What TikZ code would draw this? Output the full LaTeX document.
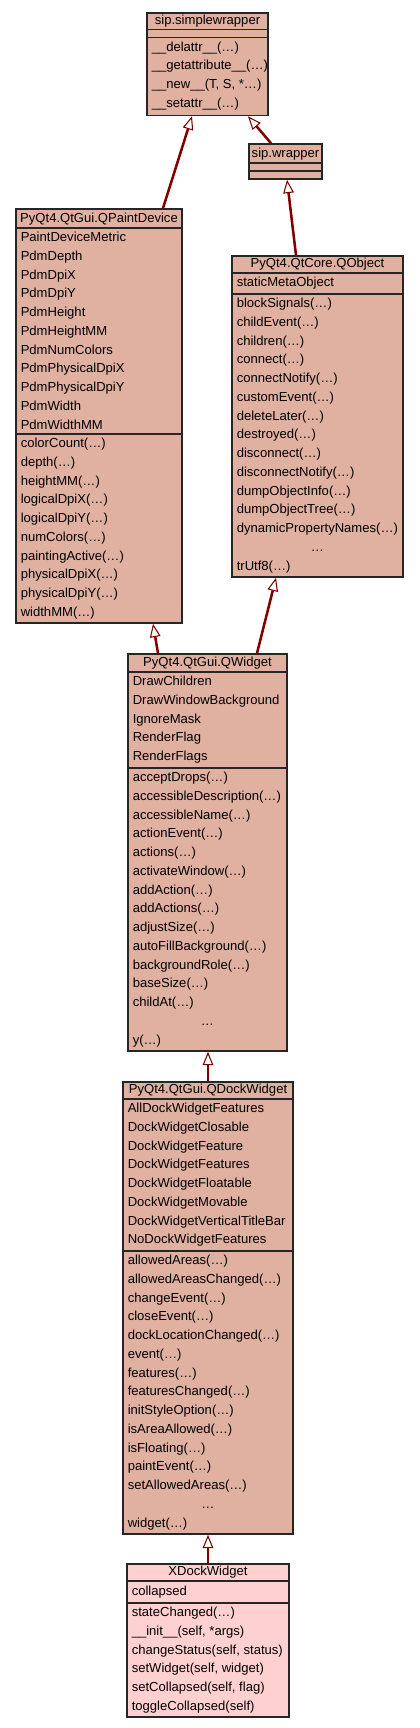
\documentclass[tikz,border=0pt]{standalone}
\usepackage{fontspec}
\setmainfont{Liberation Sans}
\usetikzlibrary{positioning, fit, calc, arrows.meta}

\definecolor{baseclass}{HTML}{E0B0A0}
\definecolor{selclass}{HTML}{FFD0D0}
\definecolor{inhlink}{HTML}{800000}

\tikzset{
  classbox/.style={draw=black!85, line width=1.2pt, fill=baseclass, inner sep=0pt},
  divider/.style={draw=black!85, line width=1.2pt},
  classtitle/.style={anchor=base, inner sep=0pt},
  member/.style={anchor=base west, inner sep=0pt},
  inherit/.style={draw=inhlink, line width=1.9pt,
    -{Triangle[fill=white, length=10pt, width=8pt, line width=0.8pt]}}
}

\begin{document}
\begin{tikzpicture}[x=0.75pt, y=-0.75pt, font=\fontsize{9.8pt}{11pt}\selectfont]
    \useasboundingbox[fill=white] (0,0) rectangle (419,1728);

    % sip.simplewrapper
    \node[classbox, fit={(147,13) (268,115.5)}] (simplewrapper) {};
    \draw[divider] (147,29.5) -- (268,29.5) (147,37.5) -- (268,37.5);
    \node[classtitle] (simplewrapper-title) at (207.5,24) {sip.simplewrapper};
    \foreach \t [count=\i] in {\_\_delattr\_\_(\dots), \_\_getattribute\_\_(\dots), {\_\_new\_\_(T, S, *\dots)}, \_\_setattr\_\_(\dots)}
      \node[member] (simplewrapper-m\i) at (151.5,{37.5+13.5+(\i-1)*18.75}) {\t};

    % sip.wrapper
    \node[classbox, fit={(249,144) (322,179)}] (sipwrapper) {};
    \draw[divider] (249,163) -- (322,163) (249,171) -- (322,171);
    \node[classtitle] (sipwrapper-title) at (285.5,157.5) {sip.wrapper};

    % PyQt4.QtGui.QPaintDevice
    \node[classbox, fit={(16,209) (182,623)}] (qpaintdevice) {};
    \draw[divider] (16,228) -- (182,228) (16,434) -- (182,434);
    \node[classtitle] (qpaintdevice-title) at (99,222.5) {PyQt4.QtGui.QPaintDevice};
    \foreach \t [count=\i] in {PaintDeviceMetric, PdmDepth, PdmDpiX, PdmDpiY, PdmHeight, PdmHeightMM, PdmNumColors, PdmPhysicalDpiX, PdmPhysicalDpiY, PdmWidth, PdmWidthMM}
      \node[member] (qpaintdevice-a\i) at (20.5,{228+13.5+(\i-1)*18.75}) {\t};
    \foreach \t [count=\i] in {colorCount, depth, heightMM, logicalDpiX, logicalDpiY, numColors, paintingActive, physicalDpiX, physicalDpiY, widthMM}
      \node[member] (qpaintdevice-m\i) at (20.5,{434+13.5+(\i-1)*18.75}) {\t(\dots)};

    % PyQt4.QtCore.QObject
    \node[classbox, fit={(232,256) (403,577)}] (qobject) {};
    \draw[divider] (232,273) -- (403,273) (232,294) -- (403,294);
    \node[classtitle] (qobject-title) at (317.5,267.5) {PyQt4.QtCore.QObject};
    \node[member] (qobject-a1) at (236.5,286.5) {staticMetaObject};
    \foreach \t [count=\i] in {blockSignals, childEvent, children, connect, connectNotify, customEvent, deleteLater, destroyed, disconnect, disconnectNotify, dumpObjectInfo, dumpObjectTree, dynamicPropertyNames}
      \node[member] (qobject-m\i) at (236.5,{294+13.5+(\i-1)*18.75}) {\t(\dots)};
    \node[classtitle] (qobject-dots) at (317.5,551.25) {\dots};
    \node[member] (qobject-m15) at (236.5,570) {trUtf8(\dots)};

    % PyQt4.QtGui.QWidget
    \node[classbox, fit={(128,654) (287,1051)}] (qwidget) {};
    \draw[divider] (128,672) -- (287,672) (128,768) -- (287,768);
    \node[classtitle] (qwidget-title) at (207.5,666.5) {PyQt4.QtGui.QWidget};
    \foreach \t [count=\i] in {DrawChildren, DrawWindowBackground, IgnoreMask, RenderFlag, RenderFlags}
      \node[member] (qwidget-a\i) at (132.5,{672+13.5+(\i-1)*18.75}) {\t};
    \foreach \t [count=\i] in {acceptDrops, accessibleDescription, accessibleName, actionEvent, actions, activateWindow, addAction, addActions, adjustSize, autoFillBackground, backgroundRole, baseSize, childAt}
      \node[member] (qwidget-m\i) at (132.5,{768+13.5+(\i-1)*18.75}) {\t(\dots)};
    \node[classtitle] (qwidget-dots) at (207.5,1025.25) {\dots};
    \node[member] (qwidget-m15) at (132.5,1044) {y(\dots)};

    % PyQt4.QtGui.QDockWidget
    \node[classbox, fit={(123,1082) (293,1534)}] (qdockwidget) {};
    \draw[divider] (123,1099) -- (293,1099) (123,1251) -- (293,1251);
    \node[classtitle] (qdockwidget-title) at (208,1093.5) {PyQt4.QtGui.QDockWidget};
    \foreach \t [count=\i] in {AllDockWidgetFeatures, DockWidgetClosable, DockWidgetFeature, DockWidgetFeatures, DockWidgetFloatable, DockWidgetMovable, DockWidgetVerticalTitleBar, NoDockWidgetFeatures}
      \node[member] (qdockwidget-a\i) at (127.5,{1099+13.5+(\i-1)*18.75}) {\t};
    \foreach \t [count=\i] in {allowedAreas, allowedAreasChanged, changeEvent, closeEvent, dockLocationChanged, event, features, featuresChanged, initStyleOption, isAreaAllowed, isFloating, paintEvent, setAllowedAreas}
      \node[member] (qdockwidget-m\i) at (127.5,{1251+13.5+(\i-1)*18.75}) {\t(\dots)};
    \node[classtitle] (qdockwidget-dots) at (208,1508.25) {\dots};
    \node[member] (qdockwidget-m15) at (127.5,1527) {widget(\dots)};

    % XDockWidget
    \node[classbox, fill=selclass, fit={(127,1564) (289,1717)}] (xdockwidget) {};
    \draw[divider] (127,1581) -- (289,1581) (127,1603) -- (289,1603);
    \node[classtitle] (xdockwidget-title) at (208,1575.5) {XDockWidget};
    \node[member] (xdockwidget-a1) at (131.5,1595.5) {collapsed};
    \foreach \t [count=\i] in {stateChanged(\dots), {\_\_init\_\_(self, *args)}, {changeStatus(self, status)}, {setWidget(self, widget)}, {setCollapsed(self, flag)}, toggleCollapsed(self)}
      \node[member] (xdockwidget-m\i) at (131.5,{1603+13.5+(\i-1)*18.75}) {\t};

    % Inheritance links
    \draw[inherit] ($(qpaintdevice.north)+(64,0)$) -- ($(simplewrapper.south)+(-15.5,0)$);
    \draw[inherit] ($(sipwrapper.north)+(-14.5,0)$) -- ($(simplewrapper.south)+(40.5,0)$);
    \draw[inherit] ($(qobject.north)+(-21.5,0)$) -- ($(sipwrapper.south)+(1.5,0)$);
    \draw[inherit] ($(qwidget.north)+(-49.5,0)$) -- ($(qpaintdevice.south)+(54,0)$);
    \draw[inherit] ($(qwidget.north)+(49.5,0)$) -- ($(qobject.south)+(-41.5,0)$);
    \draw[inherit] (qdockwidget.north) -- (qwidget.south -| qdockwidget.north);
    \draw[inherit] (xdockwidget.north) -- (qdockwidget.south);
\end{tikzpicture}
\end{document}
